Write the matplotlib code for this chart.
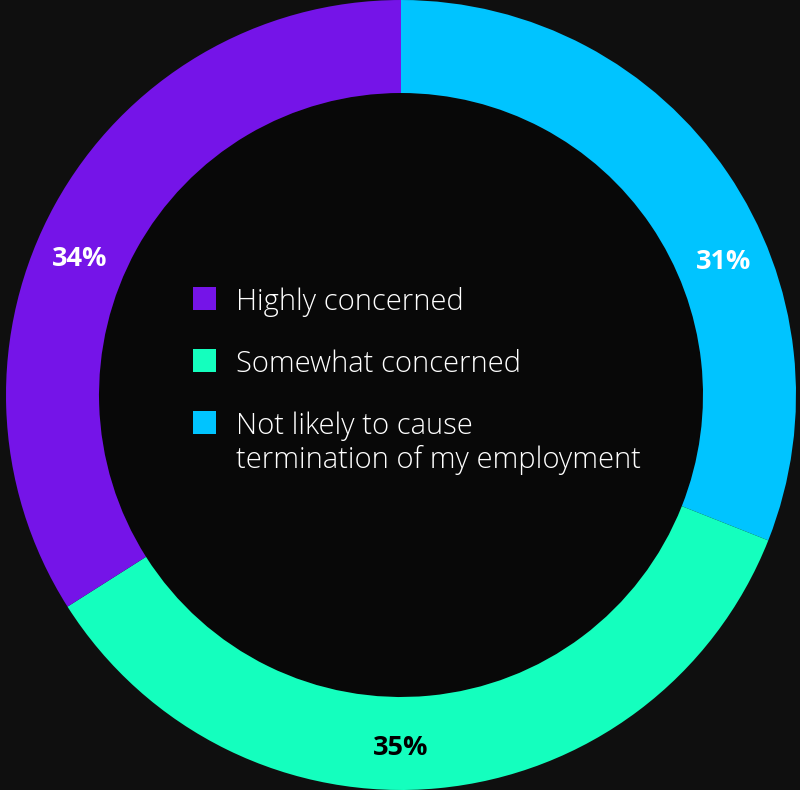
import matplotlib.pyplot as plt
from matplotlib.patches import Rectangle, Circle
import numpy as np

# ============================================================
# DATI
# ============================================================

# ordine in senso orario partendo dall'alto
categories = [
    "Not likely to cause\ntermination of my employment",
    "Somewhat concerned",
    "Highly concerned",
]
shares = [31, 35, 34]
colors = ["#00C4FF", "#14FFBE", "#7514E8"]
label_colors = ["white", "black", "white"]

# ordine della legenda
legend_order = [2, 1, 0]

# ============================================================
# LAYOUT
# ============================================================

W, H = 800, 790
CENTER = (401, H - 395)
R_OUT = 395
RING = 93
LABEL_ANGLES = [22.8, -90, 156.6]   # gradi, posizione delle percentuali
LABEL_RADIUS = 350
LINE_STEP = 34

BG = "#0f0f0f"

fig = plt.figure(figsize=(W / 100, H / 100), dpi=100, facecolor=BG)
ax = fig.add_axes([0, 0, 1, 1])
ax.set_facecolor(BG)

ax.pie(
    shares,
    colors=colors,
    startangle=90,
    counterclock=False,
    center=CENTER,
    radius=R_OUT,
    wedgeprops=dict(width=RING, linewidth=0),
    frame=True,
)
ax.set_xlim(0, W)
ax.set_ylim(0, H)
ax.set_aspect("equal")
ax.axis("off")

# interno del donut un po' più scuro
ax.add_patch(Circle(CENTER, R_OUT - RING, facecolor="#080808", edgecolor="none", zorder=0.5))

for share, angle, color in zip(shares, LABEL_ANGLES, label_colors):
    a = np.deg2rad(angle)
    ax.text(
        CENTER[0] + LABEL_RADIUS * np.cos(a),
        CENTER[1] + LABEL_RADIUS * np.sin(a) - 3,
        f"{share}%",
        ha="center",
        va="center",
        color=color,
        fontsize=19.5,
        fontweight="bold",
        family="Open Sans",
    )

# legenda manuale
legend_x = 193
legend_bottom = [H - 310, H - 372, H - 434]
box = 23
for y, idx in zip(legend_bottom, legend_order):
    ax.add_patch(Rectangle((legend_x, y), box, box, facecolor=colors[idx], edgecolor="none"))
    for i, line in enumerate(categories[idx].split("\n")):
        ax.text(
            legend_x + 43,
            y - i * LINE_STEP,
            line,
            ha="left",
            va="baseline",
            color="white",
            fontsize=21,
            fontweight="light",
            family="Open Sans",
        )

fig.savefig("out.png", dpi=100, facecolor=BG)
